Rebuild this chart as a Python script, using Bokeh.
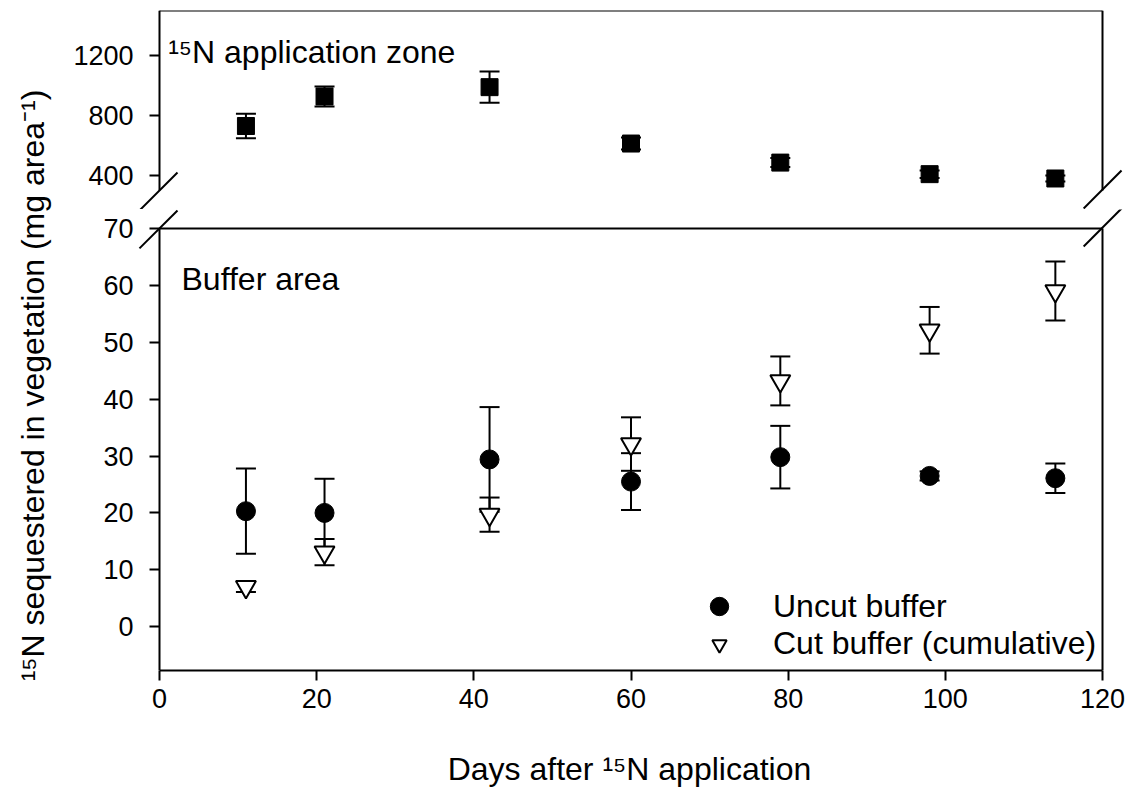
import math
from bokeh.plotting import figure
from bokeh.models import (Range1d, FixedTicker, Whisker, TeeHead, ColumnDataSource,
                          Legend, LegendItem, Label, LinearAxis)
from bokeh.layouts import row, column
from bokeh.embed import file_html
from bokeh.resources import INLINE

FONT = "Liberation Sans"

# ---- data ----
days = [11, 21, 42, 60, 79, 98, 114]
zone_mean = [730, 927, 989, 613, 486, 409, 380]
zone_se = [81, 67, 104, 40, 30, 25, 20]
uncut_mean = [20.3, 20.0, 29.4, 25.5, 29.8, 26.5, 26.1]
uncut_se = [7.5, 6.0, 9.2, 5.0, 5.5, 0.8, 2.6]
cut_mean = [7.0, 13.1, 19.7, 32.1, 43.2, 52.1, 59.0]
cut_se = [0.9, 2.3, 3.0, 4.7, 4.3, 4.1, 5.2]

x_ticks = [0, 20, 40, 60, 80, 100, 120]
zone_ticks = [400, 800, 1200]
buffer_ticks = [0, 10, 20, 30, 40, 50, 60, 70]

# axis extents (the visible panel boxes)
X_MIN, X_MAX = 0, 120
ZONE_MIN, ZONE_MAX = 300, 1500
BUF_MIN, BUF_MAX = -7.7, 70

# decorative axis-break marks (x0, y0, x1, y1)
zone_breaks = dict(x0=[-2.55, 117.6], y0=[166.7, 180], x1=[2.29, 122.42], y1=[420, 433.3])
buf_breaks = dict(x0=[-2.55, 117.6], y0=[66.5, 66.84], x1=[2.29, 122.42], y1=[73.16, 73.51])

TICK_FS = "27px"
LAB_FS = "32px"


def src(x, m, s):
    return ColumnDataSource(dict(x=x, y=m,
                                 upper=[a + b for a, b in zip(m, s)],
                                 lower=[a - b for a, b in zip(m, s)]))


def label_axis(ax, ticks):
    # normal left axis used only for the tick labels
    ax.ticker = FixedTicker(ticks=ticks)
    ax.axis_line_color = None
    ax.major_tick_line_color = None
    ax.minor_tick_line_color = None
    ax.major_tick_out = 0
    ax.major_tick_in = 0
    ax.major_label_standoff = 2
    ax.major_label_text_font = FONT
    ax.major_label_text_font_size = TICK_FS
    ax.major_label_text_color = "black"


def line_axis(p, side, loc, bounds, ticks=()):
    ax = LinearAxis(fixed_location=loc, bounds=bounds, axis_line_width=2,
                    axis_line_color="black", major_tick_line_color="black",
                    major_tick_line_width=2, major_tick_out=10, major_tick_in=0,
                    minor_tick_line_color=None, major_label_text_font_size="0px",
                    major_label_text_alpha=0, ticker=FixedTicker(ticks=list(ticks)))
    p.add_layout(ax, side)


def whisk(p, s):
    w = Whisker(source=s, base="x", upper="upper", lower="lower", dimension="height",
                line_width=2, line_color="black",
                upper_head=TeeHead(size=20, line_width=2, line_color="black"),
                lower_head=TeeHead(size=20, line_width=2, line_color="black"))
    p.add_layout(w)


xr = Range1d(-3.054, 122.672)

# ---- top panel: application zone ----
top = figure(width=1065, height=209, x_range=xr, y_range=Range1d(173.3, ZONE_MAX),
             x_axis_location=None, output_backend="svg", toolbar_location=None,
             min_border_left=75, min_border_right=2, min_border_top=10, min_border_bottom=0,
             outline_line_color=None)
top.grid.visible = False
label_axis(top.left[0], zone_ticks)
line_axis(top, "left", X_MIN, (ZONE_MIN, ZONE_MAX), zone_ticks)
line_axis(top, "right", X_MAX, (ZONE_MIN, ZONE_MAX))
line_axis(top, "above", ZONE_MAX, (X_MIN, X_MAX))

zs = src(days, zone_mean, zone_se)
whisk(top, zs)
top.scatter("x", "y", source=zs, marker="square", size=17, fill_color="black", line_color="black")
top.segment(source=ColumnDataSource(zone_breaks), x0="x0", y0="y0", x1="x1", y1="y1",
            line_width=2, line_color="black")
top.add_layout(Label(x=1.1, y=1225, text="¹⁵N application zone", text_font=FONT,
                     text_font_size=LAB_FS, text_color="black", text_baseline="alphabetic"))

# ---- bottom panel: buffer area ----
bot = figure(width=1065, height=580, x_range=xr, y_range=Range1d(BUF_MIN, 73.33),
             output_backend="svg", toolbar_location=None,
             min_border_left=75, min_border_right=2, min_border_top=0, min_border_bottom=118,
             outline_line_color=None)
bot.grid.visible = False
xa = bot.below[0]
label_axis(bot.left[0], buffer_ticks)
line_axis(bot, "left", X_MIN, (BUF_MIN, BUF_MAX), buffer_ticks)
line_axis(bot, "right", X_MAX, (BUF_MIN, BUF_MAX))
line_axis(bot, "above", BUF_MAX, (X_MIN, X_MAX))

xa.ticker = FixedTicker(ticks=x_ticks)
xa.bounds = (X_MIN, X_MAX)
xa.axis_line_width = 2
xa.axis_line_color = "black"
xa.major_tick_line_width = 2
xa.major_tick_line_color = "black"
xa.major_tick_out = 10
xa.major_tick_in = 0
xa.minor_tick_line_color = None
xa.major_label_standoff = 8
xa.major_label_text_font = FONT
xa.major_label_text_font_size = TICK_FS
xa.major_label_text_color = "black"
xa.axis_label = "Days after ¹⁵N application"
xa.axis_label_standoff = 40
xa.axis_label_text_font = FONT
xa.axis_label_text_font_size = LAB_FS
xa.axis_label_text_font_style = "normal"
xa.axis_label_text_color = "black"

us = src(days, uncut_mean, uncut_se)
cs = src(days, cut_mean, cut_se)
whisk(bot, us)
whisk(bot, cs)
r_cut = bot.scatter("x", "y", source=cs, marker="inverted_triangle", size=20,
                    fill_color="white", line_color="black", line_width=2)
r_unc = bot.scatter("x", "y", source=us, marker="circle", size=19,
                    fill_color="black", line_color="black")
bot.segment(source=ColumnDataSource(buf_breaks), x0="x0", y0="y0", x1="x1", y1="y1",
            line_width=2, line_color="black")
bot.add_layout(Label(x=2.8, y=61.2, text="Buffer area", text_font=FONT,
                     text_font_size=LAB_FS, text_color="black", text_baseline="alphabetic"))

leg1 = Legend(items=[LegendItem(label="Uncut buffer", renderers=[r_unc])],
              location=(561, 41), border_line_color=None, background_fill_alpha=0,
              label_text_font=FONT, label_text_font_size=LAB_FS, label_text_color="black",
              glyph_width=46, glyph_height=46, label_standoff=31, padding=0, margin=0)
leg2 = Legend(items=[LegendItem(label="Cut buffer (cumulative)", renderers=[r_cut])],
              location=(566, 8), border_line_color=None, background_fill_alpha=0,
              label_text_font=FONT, label_text_font_size=LAB_FS, label_text_color="black",
              glyph_width=36, glyph_height=36, label_standoff=36, padding=0, margin=0)
bot.add_layout(leg1)
bot.add_layout(leg2)

# ---- shared y-axis title ----
lab = figure(width=60, height=789, x_range=Range1d(0, 60), y_range=Range1d(789, 0),
             output_backend="svg", toolbar_location=None, x_axis_location=None,
             y_axis_location=None, min_border=0, outline_line_color=None)
lab.grid.visible = False
lab.add_layout(Label(x=32, y=385, angle=math.pi / 2,
                     text="¹⁵N sequestered in vegetation (mg area⁻¹)",
                     text_font=FONT, text_font_size=LAB_FS, text_color="black",
                     text_align="center", text_baseline="middle"))

p = row(lab, column(top, bot))
open("out.html", "w").write(file_html(p, INLINE))
